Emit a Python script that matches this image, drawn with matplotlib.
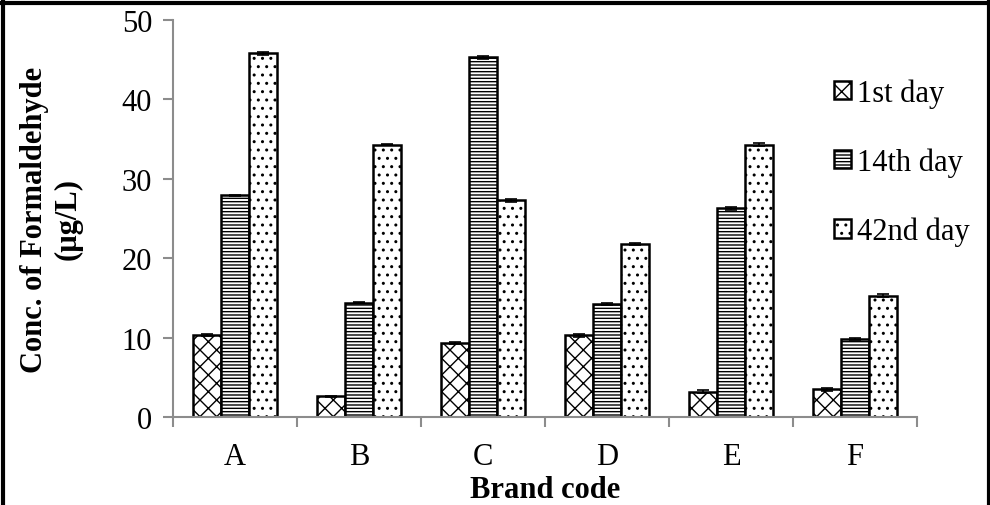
import matplotlib
matplotlib.use("Agg")
import matplotlib.pyplot as plt
import numpy as np
from matplotlib.lines import Line2D

categories = ["A", "B", "C", "D", "E", "F"]
series_names = ["1st day", "14th day", "42nd day"]
day1 = [10.3, 2.6, 9.3, 10.3, 3.2, 3.5]
day14 = [27.9, 14.4, 45.3, 14.2, 26.3, 9.8]
day42 = [45.8, 34.3, 27.3, 21.8, 34.3, 15.3]
err1 = [0.1, 0.1, 0.1, 0.2, 0.2, 0.2]
err14 = [0.1, 0.1, 0.2, 0.1, 0.2, 0.1]
err42 = [0.2, 0.1, 0.2, 0.1, 0.2, 0.2]
yticks = [0, 10, 20, 30, 40, 50]

plt.rcParams['font.family'] = ['Liberation Serif', 'DejaVu Serif']
plt.rcParams['hatch.linewidth'] = 1.0
FS = 22

W, H = 990, 506
fig = plt.figure(figsize=(9.9, 5.06), dpi=100)
ax = fig.add_axes([173 / W, 1 - 418 / H, (917 - 173) / W, (418 - 21) / H])

x = np.arange(len(categories))
bw = 0.228
hatches = ['xx', '-----', '..']
data = [day1, day14, day42]
errs = [err1, err14, err42]
handles = []
for i, (vals, e, h) in enumerate(zip(data, errs, hatches)):
    bars = ax.bar(x + (i - 1) * bw, vals, bw, color='white', edgecolor='black',
                  linewidth=1.8, hatch=h, zorder=2, label=series_names[i])
    ax.errorbar(x + (i - 1) * bw, vals, yerr=e, fmt='none', ecolor='black',
                elinewidth=1.2, capsize=4, capthick=1.2, zorder=3)
    handles.append(bars)

ax.set_xlim(-0.5, len(categories) - 0.5)
ax.set_ylim(0, 50)
ax.set_yticks(yticks)
ax.set_yticklabels([str(t) for t in yticks], fontsize=FS)
ax.set_xticks(x)
ax.set_xticklabels(categories, fontsize=FS)
ax.set_xticks(np.arange(-0.5, len(categories), 1.0), minor=True)
ax.tick_params(axis='x', which='major', length=0, pad=18)
ax.tick_params(axis='x', which='minor', length=7, width=1.5, color='#8c8c8c', direction='out')
ax.tick_params(axis='y', length=7, width=1.5, color='#8c8c8c', direction='out', pad=8)
for s in ['top', 'right']:
    ax.spines[s].set_visible(False)
for s in ['left', 'bottom']:
    ax.spines[s].set_color('#8c8c8c')
    ax.spines[s].set_linewidth(1.5)

ax.set_ylabel("Conc. of Formaldehyde\n(µg/L)", fontsize=FS, fontweight='bold', labelpad=28,
              linespacing=1.2)
ax.set_xlabel("Brand code", fontsize=FS, fontweight='bold', labelpad=3)

leg = ax.legend(handles=handles, loc='upper left',
                bbox_to_anchor=((822 - 173) / (917 - 173), (418 - 67) / (418 - 21)),
                frameon=False, fontsize=FS, handlelength=0.55, handleheight=0.55,
                handletextpad=0.2, labelspacing=1.3, borderaxespad=0)

# figure border
for coords in [([3, 3], [0, H]), ([0, W], [H - 4, H - 4]), ([W - 1, W - 1], [0, H])]:
    fig.add_artist(Line2D(np.array(coords[0]) / W, np.array(coords[1]) / H,
                          transform=fig.transFigure, color='black', linewidth=3))

fig.savefig("out.png", dpi=100)
